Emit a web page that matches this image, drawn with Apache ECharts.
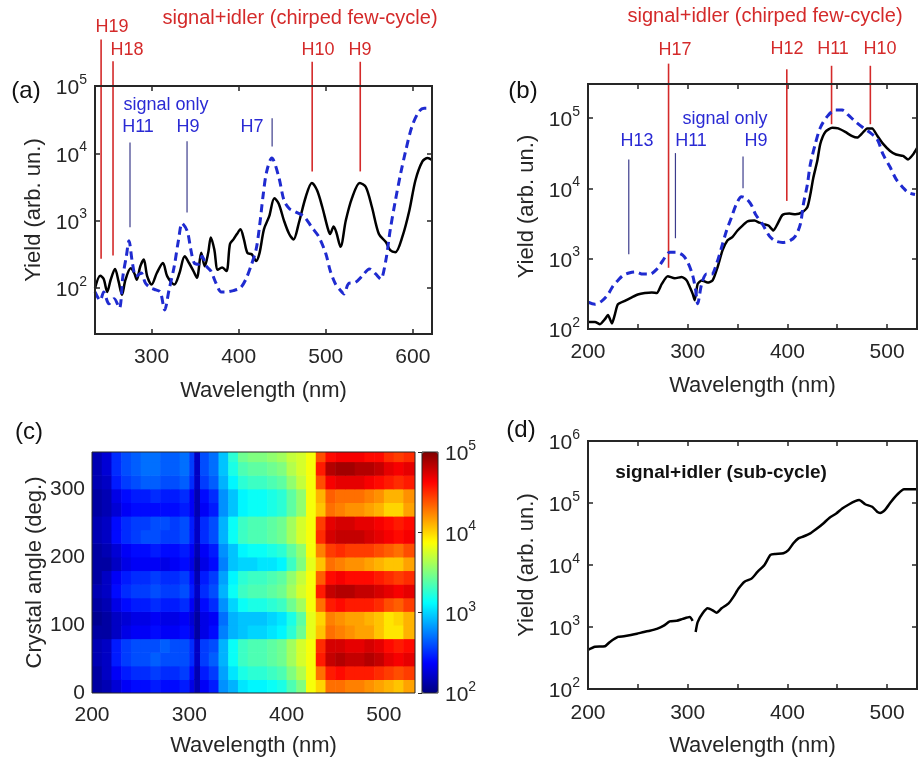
<!DOCTYPE html>
<html>
<head>
<meta charset="utf-8">
<script src="https://cdn.jsdelivr.net/npm/echarts@6/dist/echarts.min.js"></script>
<style>
html, body { margin: 0; padding: 0; background: #fff; }
#chart { width: 920px; height: 761px; }
</style>
</head>
<body>
<div id="chart"></div>
<script>
// (a) chirped few-cycle (black) vs signal only (blue dashed)
const wlA_black = [235,241,245,249,253,258,262,266,270,276,280,283,287,291,295,300,306,313,318,326,332,338,343,348,352,357,361,365,368,372,376,381,386,390,394,398,402,406,410,415,420,424,429,435,441,446,452,458,463,469,477,484,490,496,502,505,509,512,517,523,530,539,546,553,561,569,574,580,588,596,603,611,617,622];
const yieldA_black = [98,151,135,87,132,191,126,79,132,195,166,132,209,263,148,112,166,234,148,112,166,295,234,178,141,331,209,331,562,372,186,200,178,447,525,631,741,525,331,316,251,331,741,1150,2140,1780,1000,631,525,912,2240,3630,2820,1590,794,631,813,676,407,1000,2140,3630,3160,1590,631,479,363,339,575,1410,3980,7590,8510,7940];
const wlA_blue = [235,241,245,251,257,263,267,271,274,278,282,288,293,299,305,310,315,320,326,331,335,341,345,349,354,358,363,368,374,380,386,394,402,408,414,420,424,428,432,438,446,452,458,465,475,484,492,500,505,511,517,521,526,534,542,550,557,563,569,574,580,586,592,599,607,613,620];
const yieldA_blue = [87,65,87,58,69,50,148,295,501,234,148,166,117,100,93,87,47,93,209,525,912,692,372,234,224,295,209,178,117,87,87,91,100,132,209,372,832,2340,5250,8510,4470,2000,1510,1350,1150,794,575,324,182,115,91,81,115,120,151,191,162,135,257,724,2000,5010,11200,25100,41700,46800,46800];
// harmonic markers: [wavelength, top yield, bottom yield]
const harmA_red = [[242,490000,270],[255.7,234000,302],[484.4,229000,5370],[539.6,229000,5370]];
const harmA_blue = [[275.2,14500,794],[340.7,15100,1320],[438.4,33100,12600]];

// (b)
const wlB_black = [200,207,212,217,220,224,227,230,237,244,250,257,264,269,274,280,287,294,299,302,305,307,310,314,320,325,330,335,340,345,350,355,360,367,372,376,381,386,390,395,402,408,415,420,423,426,430,433,438,445,451,458,465,470,475,480,485,490,496,503,509,516,521,526,530];
const yieldB_black = [126,126,117,138,158,120,162,224,251,282,309,324,331,324,437,562,525,550,490,398,316,257,437,490,457,490,759,1320,1820,2040,2510,2950,3390,3470,3240,3090,2950,2510,3090,4170,4370,4270,4570,5370,8130,14100,24500,42700,63100,72400,70800,63100,55000,52500,60300,70800,70800,56200,42700,33900,30200,28800,25700,30200,37200];
const wlB_blue = [200,207,214,220,225,230,235,242,248,255,262,269,275,282,288,295,300,305,308,310,314,319,324,329,334,339,344,349,354,359,364,368,375,382,388,395,402,408,413,416,420,423,428,433,440,448,455,461,468,476,483,490,496,503,509,516,521,528];
const yieldB_blue = [240,224,251,309,407,490,575,631,646,603,603,708,933,1230,1230,1120,891,575,355,229,437,603,603,851,1450,2510,3890,6030,7590,7080,5750,4270,3090,2090,1780,1700,1780,2090,3090,5890,11200,21900,42700,72400,105000,129000,129000,110000,89100,72400,61700,50100,30200,20000,13500,10200,8710,8130];
const harmB_red = [[280.8,590000,741],[399.4,490000,6610],[444.3,550000,81300],[483.2,550000,81300]];
const harmB_blue = [[240.9,25700,1150],[287.7,31600,1950],[355.5,28200,10000]];

// (c) crystal-angle scan, log10 of yield; rows = angle bins, columns = wavelength bins
const heatEdgesNm = [200,210,220,230,240,250,260,270,280,290,300,305,311,320,330,340,350,360,370,380,390,400,410,420,430,440,450,460,470,480,490,500,510,520,532];
const heatAngleEdges = [0,20,40,60,80,100,120,140,160,180,200,220,240,260,280,300,320,340,360];
const heatLogYield = [
  [2.1,2.15,2.25,2.35,2.4,2.4,2.45,2.4,2.4,2.45,2.3,2.15,2.35,2.45,2.8,2.9,3.05,3.1,3.1,3.15,3.2,3.35,3.5,3.85,4.0,4.3,4.3,4.25,4.25,4.2,4.15,4.1,4.05,4.15],
  [2.1,2.2,2.35,2.45,2.5,2.5,2.55,2.5,2.5,2.55,2.4,2.15,2.45,2.55,2.85,3.05,3.2,3.25,3.25,3.3,3.35,3.5,3.65,3.85,4.3,4.55,4.6,4.55,4.55,4.55,4.5,4.45,4.4,4.45],
  [2.15,2.2,2.45,2.55,2.6,2.6,2.65,2.6,2.6,2.6,2.5,2.2,2.55,2.65,2.9,3.15,3.3,3.35,3.35,3.4,3.45,3.6,3.75,3.85,4.55,4.8,4.85,4.8,4.8,4.85,4.8,4.7,4.65,4.7],
  [2.15,2.2,2.45,2.55,2.6,2.6,2.6,2.65,2.6,2.6,2.5,2.2,2.55,2.6,2.9,3.15,3.3,3.35,3.35,3.4,3.45,3.6,3.75,3.85,4.5,4.75,4.75,4.7,4.7,4.75,4.7,4.6,4.55,4.6],
  [2.1,2.1,2.2,2.3,2.35,2.35,2.4,2.35,2.35,2.4,2.3,2.1,2.3,2.4,2.75,2.9,2.95,3.0,3.0,3.05,3.1,3.25,3.45,3.8,4.05,4.3,4.25,4.2,4.15,4.15,4.05,3.95,3.95,4.1],
  [2.05,2.1,2.2,2.25,2.3,2.3,2.35,2.3,2.3,2.35,2.25,2.1,2.3,2.35,2.7,2.9,2.95,2.95,2.95,3.0,3.05,3.2,3.4,3.8,4.0,4.25,4.2,4.15,4.15,4.1,4.05,3.95,4.0,4.1],
  [2.1,2.15,2.3,2.4,2.45,2.45,2.5,2.45,2.45,2.5,2.35,2.15,2.4,2.5,2.8,3.0,3.15,3.2,3.2,3.25,3.3,3.45,3.6,3.85,4.3,4.55,4.6,4.55,4.55,4.55,4.5,4.4,4.35,4.45],
  [2.15,2.2,2.4,2.5,2.55,2.55,2.6,2.55,2.55,2.6,2.45,2.2,2.5,2.6,2.9,3.15,3.3,3.35,3.35,3.4,3.45,3.6,3.75,3.85,4.55,4.8,4.85,4.85,4.8,4.8,4.75,4.7,4.65,4.7],
  [2.1,2.2,2.35,2.45,2.5,2.5,2.55,2.5,2.5,2.55,2.4,2.15,2.45,2.55,2.85,3.1,3.25,3.3,3.3,3.35,3.4,3.55,3.7,3.85,4.35,4.6,4.65,4.6,4.6,4.6,4.55,4.5,4.45,4.5],
  [2.1,2.1,2.2,2.3,2.35,2.35,2.35,2.3,2.35,2.4,2.3,2.1,2.3,2.4,2.75,2.95,3.0,3.0,3.05,3.05,3.1,3.3,3.5,3.8,4.05,4.3,4.25,4.2,4.2,4.15,4.1,4.05,4.05,4.15],
  [2.1,2.15,2.25,2.35,2.4,2.4,2.45,2.4,2.4,2.45,2.35,2.15,2.35,2.45,2.8,2.95,3.1,3.15,3.15,3.2,3.25,3.4,3.55,3.85,4.25,4.45,4.5,4.45,4.45,4.45,4.4,4.35,4.3,4.4],
  [2.15,2.2,2.4,2.5,2.55,2.6,2.6,2.55,2.55,2.6,2.45,2.2,2.5,2.6,2.9,3.15,3.3,3.35,3.35,3.4,3.45,3.6,3.75,3.85,4.5,4.75,4.8,4.8,4.8,4.75,4.7,4.65,4.6,4.65],
  [2.15,2.2,2.4,2.5,2.55,2.55,2.6,2.6,2.55,2.6,2.45,2.2,2.5,2.6,2.9,3.15,3.3,3.35,3.35,3.4,3.45,3.6,3.75,3.85,4.45,4.7,4.75,4.75,4.7,4.7,4.65,4.6,4.55,4.6],
  [2.1,2.15,2.25,2.35,2.4,2.4,2.4,2.4,2.4,2.45,2.35,2.15,2.35,2.45,2.8,2.95,3.1,3.15,3.15,3.2,3.25,3.4,3.55,3.85,4.05,4.3,4.25,4.2,4.2,4.15,4.1,4.0,4.0,4.15],
  [2.1,2.15,2.3,2.4,2.45,2.45,2.5,2.45,2.45,2.5,2.35,2.15,2.4,2.5,2.8,2.95,3.1,3.15,3.15,3.2,3.25,3.4,3.55,3.85,4.1,4.35,4.3,4.3,4.3,4.25,4.2,4.1,4.1,4.2],
  [2.15,2.2,2.45,2.55,2.6,2.65,2.65,2.6,2.6,2.65,2.5,2.2,2.55,2.65,2.9,3.1,3.25,3.3,3.3,3.35,3.4,3.55,3.7,3.85,4.4,4.65,4.7,4.7,4.7,4.65,4.6,4.55,4.5,4.55],
  [2.15,2.25,2.5,2.6,2.65,2.7,2.7,2.65,2.65,2.7,2.55,2.2,2.6,2.7,2.95,3.2,3.35,3.4,3.4,3.45,3.5,3.65,3.75,3.85,4.55,4.85,4.9,4.9,4.85,4.85,4.8,4.7,4.65,4.7],
  [2.15,2.25,2.5,2.6,2.65,2.7,2.7,2.65,2.65,2.7,2.55,2.2,2.6,2.7,2.95,3.25,3.45,3.5,3.5,3.55,3.6,3.7,3.75,3.85,4.4,4.6,4.65,4.65,4.65,4.6,4.6,4.5,4.45,4.5]
];

// (d) sub-cycle signal+idler
const wlD = [200,207,217,222,230,236,243,249,256,262,269,276,282,289,295,302,305,307,308,310,315,320,325,329,334,341,346,351,357,364,370,377,383,388,396,401,406,411,416,423,429,436,442,449,455,462,468,472,478,485,490,493,498,504,511,517,524,530];
const yieldD = [427,479,490,575,692,708,741,776,832,871,933,1050,1230,1260,1350,1450,1260,null,832,1200,1660,2000,1860,1700,2000,2400,3090,4170,5370,6030,7760,10000,14500,15100,15500,17400,22400,26900,28800,32400,38000,46800,57500,67600,81300,95500,107000,112000,95500,87100,72400,69200,77600,105000,141000,166000,166000,166000];

const FONT = '"Liberation Sans", Arial, Helvetica, sans-serif';
const INK = '#262626';
const RED = '#d42a2a';
const BLUE = '#2a2ad4';
const JET = ['#000080','#0000ff','#0080ff','#00ffff','#80ff80','#ffff00','#ff8000','#ff0000','#800000'];

const zip = (xs, ys) => xs.map((x, i) => [x, ys[i]]);

function powLabel(v) {
  const e = Math.log10(v);
  if (Math.abs(e - Math.round(e)) > 0.01) return '';
  return '{b|10}{e|' + Math.round(e) + '}';
}
const powRich = {
  b: { fontFamily: FONT, fontSize: 21, color: INK, lineHeight: 26, verticalAlign: 'bottom' },
  e: { fontFamily: FONT, fontSize: 14, color: INK, lineHeight: 12, verticalAlign: 'top' }
};
const hundreds = v => (Math.abs(v % 100) < 1e-6 ? String(v) : '');

function tick(show) {
  return { show: show, inside: true, length: 5, lineStyle: { color: INK, width: 1.5 } };
}

function xPair(gi, min, max, nameGap, labelMargin, withTop) {
  const out = [{
    type: 'value', gridIndex: gi, min: min, max: max, position: 'bottom',
    name: 'Wavelength (nm)', nameLocation: 'middle', nameGap: nameGap,
    nameTextStyle: { fontFamily: FONT, fontSize: 22, color: INK },
    axisLine: { show: false }, axisTick: tick(withTop), splitLine: { show: false },
    axisLabel: { fontFamily: FONT, fontSize: 21, color: INK, margin: labelMargin, formatter: hundreds }
  }];
  if (withTop) {
    out.push({
      type: 'value', gridIndex: gi, min: min, max: max, position: 'top',
      axisLine: { show: false }, axisTick: tick(true), splitLine: { show: false },
      axisLabel: { show: false }
    });
  }
  return out;
}

function yLogPair(gi, min, max) {
  return [{
    type: 'log', gridIndex: gi, min: min, max: max, position: 'left',
    name: 'Yield (arb. un.)', nameLocation: 'middle', nameGap: 50, nameRotate: 90,
    nameTextStyle: { fontFamily: FONT, fontSize: 22, color: INK },
    axisLine: { show: false }, axisTick: tick(true), splitLine: { show: false }, minorTick: { show: false },
    axisLabel: { margin: 8, formatter: powLabel, rich: powRich }
  }, {
    type: 'log', gridIndex: gi, min: min, max: max, position: 'right',
    axisLine: { show: false }, axisTick: tick(true), splitLine: { show: false },
    axisLabel: { show: false }
  }];
}

function frame(left, top, width, height, bw) {
  return { left: left, top: top, width: width, height: height, show: true,
    borderColor: INK, borderWidth: bw, backgroundColor: 'transparent', z: 10 };
}

function markers(data, xi, yi, color, width) {
  return {
    type: 'custom', xAxisIndex: xi, yAxisIndex: yi, data: data, silent: true, clip: false,
    encode: { x: 0, y: [1, 2] },
    renderItem: function (params, api) {
      const p = api.coord([api.value(0), api.value(1)]);
      const q = api.coord([api.value(0), api.value(2)]);
      return { type: 'line', shape: { x1: p[0], y1: p[1], x2: q[0], y2: q[1] },
        style: { stroke: color, lineWidth: width } };
    }
  };
}

function curve(xs, ys, xi, yi, dashed, smooth) {
  return {
    type: 'line', xAxisIndex: xi, yAxisIndex: yi, data: zip(xs, ys), showSymbol: false,
    smooth: smooth, connectNulls: false, silent: true,
    lineStyle: dashed ? { color: '#1f2bd0', width: 3, type: [8, 5] } : { color: '#000', width: 2.5 }
  };
}

const heatData = [];
heatLogYield.forEach((row, r) => row.forEach((v, c) => {
  heatData.push([heatEdgesNm[c], heatAngleEdges[r], v, heatEdgesNm[c + 1], heatAngleEdges[r + 1]]);
}));

function txt(x, y, text, size, color, weight) {
  return { type: 'text', x: x, y: y, silent: true, z: 100,
    style: { text: text, fill: color, fontFamily: FONT, fontSize: size, fontWeight: weight || 'normal',
      align: 'center', verticalAlign: 'middle', textAlign: 'center', textVerticalAlign: 'middle' } };
}

const xAxis = [].concat(
  xPair(0, 235, 622, 46, 13, true),       // 0,1
  xPair(1, 200, 530, 46, 13, true),       // 2,3
  xPair(2, 200, 532, 42, 12, false),      // 4
  xPair(3, 200, 530, 46, 14, true),       // 5,6
  [{ type: 'value', gridIndex: 4, min: 0, max: 1, show: false }] // 7
);
const cAxisY = {
  type: 'value', gridIndex: 2, min: 0, max: 354, position: 'left',
  name: 'Crystal angle (deg.)', nameLocation: 'middle', nameGap: 46, nameRotate: 90,
  nameTextStyle: { fontFamily: FONT, fontSize: 22, color: INK },
  axisLine: { show: false }, axisTick: { show: false }, splitLine: { show: false },
  axisLabel: { fontFamily: FONT, fontSize: 21, color: INK, margin: 7, formatter: hundreds }
};
const cbAxisY = {
  type: 'log', gridIndex: 4, min: 100, max: 100000, position: 'right',
  axisLine: { show: false }, splitLine: { show: false },
  axisTick: { show: true, inside: true, length: 4, lineStyle: { color: INK, width: 1 } },
  axisLabel: { margin: 7, formatter: powLabel, rich: powRich }
};
const yAxis = [].concat(
  yLogPair(0, 20.6, 100000),   // 0,1
  yLogPair(1, 100, 303000),    // 2,3
  [cAxisY],                    // 4
  yLogPair(3, 100, 1000000),   // 5,6
  [cbAxisY]                    // 7
);

const series = [
  curve(wlA_black, yieldA_black, 0, 0, false, 0.3),
  curve(wlA_blue, yieldA_blue, 0, 0, true, 0.3),
  markers(harmA_red, 0, 0, RED, 1.6),
  markers(harmA_blue, 0, 0, '#3c3c8c', 1.2),
  curve(wlB_black, yieldB_black, 2, 2, false, 0.2),
  curve(wlB_blue, yieldB_blue, 2, 2, true, 0.3),
  markers(harmB_red, 2, 2, RED, 1.6),
  markers(harmB_blue, 2, 2, '#3c3c8c', 1.2),
  {
    type: 'custom', xAxisIndex: 4, yAxisIndex: 4, data: heatData, clip: true, silent: true,
    encode: { x: [0, 3], y: [1, 4] },
    renderItem: function (params, api) {
      const a = api.coord([api.value(0), api.value(1)]);
      const b = api.coord([api.value(3), api.value(4)]);
      return { type: 'rect', shape: { x: a[0], y: b[1], width: b[0] - a[0] + 0.6, height: a[1] - b[1] + 0.6 },
        style: { fill: api.visual('color') } };
    }
  },
  curve(wlD, yieldD, 5, 5, false, 0.2)
];

const chart = echarts.init(document.getElementById('chart'), null, { renderer: 'canvas' });
chart.setOption({
  animation: false,
  backgroundColor: '#fff',
  textStyle: { fontFamily: FONT },
  grid: [
    frame(95, 86, 337, 248, 2),
    frame(588, 84, 331, 245, 2),
    frame(92, 452, 323, 241, 1),
    frame(588, 441, 336, 248, 2),
    frame(422, 452, 16, 241, 1)
  ],
  xAxis: xAxis,
  yAxis: yAxis,
  visualMap: [{
    type: 'continuous', min: 2, max: 5, dimension: 2, seriesIndex: 8,
    calculable: false, hoverLink: false, padding: 0, text: null,
    left: 422, top: 452, itemWidth: 16, itemHeight: 241,
    inRange: { color: JET }
  }],
  series: series,
  graphic: [
    txt(26, 91, '(a)', 24, '#111'),
    txt(523, 91, '(b)', 24, '#111'),
    txt(29, 432, '(c)', 24, '#111'),
    txt(521, 430, '(d)', 24, '#111'),
    txt(300, 18, 'signal+idler (chirped few-cycle)', 20, RED),
    txt(112, 27, 'H19', 18, RED),
    txt(127, 50, 'H18', 18, RED),
    txt(318, 50, 'H10', 18, RED),
    txt(360, 50, 'H9', 18, RED),
    txt(166, 105, 'signal only', 18, BLUE),
    txt(138, 127, 'H11', 18, BLUE),
    txt(188, 127, 'H9', 18, BLUE),
    txt(252, 127, 'H7', 18, BLUE),
    txt(765, 16, 'signal+idler (chirped few-cycle)', 20, RED),
    txt(675, 50, 'H17', 18, RED),
    txt(787, 49, 'H12', 18, RED),
    txt(833, 49, 'H11', 18, RED),
    txt(880, 49, 'H10', 18, RED),
    txt(725, 119, 'signal only', 18, BLUE),
    txt(637, 141, 'H13', 18, BLUE),
    txt(691, 141, 'H11', 18, BLUE),
    txt(756, 141, 'H9', 18, BLUE),
    txt(721, 473, 'signal+idler (sub-cycle)', 19, '#111', 'bold')
  ]
});
</script>
</body>
</html>
